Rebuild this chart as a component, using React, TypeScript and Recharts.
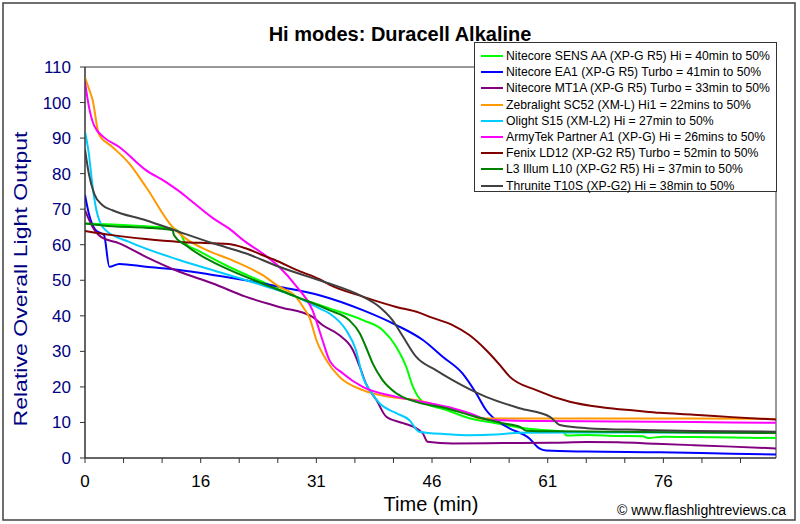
import { Legend, Line, LineChart, ReferenceArea, XAxis, YAxis } from "recharts";

type Pt = [number, number];

// x axis is an Excel category axis: a tick every ~5.07 min, label on every third
const X_TICK_LABELS = ["0", "16", "31", "46", "61", "76"];
const X_TICK_STEP = 76 / 15;
const X_MAX = 90.8;
const X_TICKS = Array.from({ length: 18 }, (_, k) => k * X_TICK_STEP);
const Y_TICKS = [0, 10, 20, 30, 40, 50, 60, 70, 80, 90, 100, 110];

// [minutes, relative output]
const SENS_AA: Pt[] = [
  [0, 66], [3.6, 65.7], [8, 65.2], [11.5, 64.6], [12.4, 63.6], [13.2, 60.4], [15, 58.2],
  [18.9, 53.8], [23.3, 49.6], [27.7, 45.4], [32.1, 42.1], [36.5, 38.8], [39.1, 36],
  [40.9, 31.3], [42.2, 25.7], [43.1, 20], [44.4, 15.8], [47.5, 13.5], [50.5, 11.2],
  [54, 9.8], [57, 8.6], [60, 7.9], [62.8, 7.5], [63.3, 6.3], [66, 6.5], [70, 6.2],
  [73.3, 6.1], [74, 5.6], [76, 6.0], [80, 5.9], [85, 5.8], [90.8, 5.6],
];
const EA1: Pt[] = [
  [0, 74], [0.5, 68.8], [1.4, 64.1], [2.5, 62.7], [3.2, 53.8], [4.5, 54.6], [8, 53.8],
  [12.4, 52.9], [16.8, 51.5], [21.1, 50], [25.5, 48.2], [30.8, 45.8], [36.5, 41.6],
  [40.9, 37.4], [44.4, 33.2], [47, 28.5], [49.6, 23.8], [51.4, 18.2], [52.7, 13.5],
  [55.4, 8.8], [58.4, 5.5], [59.7, 2.7], [60.6, 2.1], [65.9, 1.8], [75.5, 1.6],
  [85, 1.2], [90.8, 1.0],
];
const MT1A: Pt[] = [
  [0, 69.7], [1, 65], [2.1, 62.2], [4.5, 60.4], [8, 56.6], [12.4, 52.4], [16.8, 49.1],
  [21.1, 45.4], [25.5, 42.5], [29.9, 39.7], [31.2, 37.4], [33.4, 34.6], [35.2, 30.4],
  [36.1, 25.7], [36.9, 21], [38.3, 16.3], [39.6, 11.6], [41.8, 9.8], [43.5, 8.4],
  [44.4, 6.9], [45, 4.6], [48.3, 4.1], [55, 4.2], [61.4, 4.3], [66, 4.5], [70, 4.4],
  [75, 4.0], [80, 3.6], [85, 3.2], [90.8, 2.7],
];
const SC52: Pt[] = [
  [0, 107], [0.5, 104], [1, 100.7], [1.84, 91], [3.6, 87.5], [5.8, 82.9], [8, 76.3],
  [11.5, 65], [13.2, 61.8], [16, 58.5], [18.9, 56], [23.3, 51.5], [25.5, 48.2],
  [27.7, 45.4], [28.8, 42], [29.5, 39.5], [30.4, 33.2], [31.7, 27.6], [33.4, 22.9],
  [36.5, 19.1], [40, 17.2], [43.5, 16.3], [46, 15], [48.3, 13.8], [50.5, 12.5],
  [51.8, 11.1], [60, 11.1], [70, 11.1], [80, 11.1], [90.8, 11.0],
];
const S15: Pt[] = [
  [0, 91.8], [0.5, 85.7], [1, 76.3], [1.6, 68.8], [2.7, 64.1], [5.8, 60.8], [12.4, 55.7],
  [18.9, 51.5], [23.3, 48.6], [27.7, 45.4], [30.8, 42.1], [32.1, 40.7], [34.3, 36],
  [35.6, 30.4], [36.5, 22.9], [37.4, 19.1], [38.7, 15.4], [40.9, 12.6], [42.6, 10.7],
  [43.9, 7.4], [47.5, 6.7], [50.5, 6.4], [54, 6.6], [57.1, 7.1], [65, 7.2], [75, 7.2],
  [90.8, 7.2],
];
const PARTNER_A1: Pt[] = [
  [0, 105.8], [0.5, 99], [1.2, 93.5], [2.5, 90.2], [4.5, 87.5], [8, 81], [10.6, 77.7],
  [12.4, 75], [14.1, 72.1], [16.8, 67.5], [18.9, 64.6], [21.1, 60.8], [23.3, 57.6],
  [25.5, 53.8], [27.7, 48.5], [29.9, 41.5], [31.2, 33.2], [32.1, 27.6], [33.9, 23.8],
  [36.5, 20], [40.9, 17.2], [45.3, 15.4], [48.3, 14], [50.5, 12.6], [53.2, 10.7],
  [60, 10.4], [70, 10.3], [80, 10.1], [90.8, 9.9],
];
const LD12: Pt[] = [
  [0, 63.9], [3.6, 62.7], [8, 61.6], [12.4, 60.8], [16.8, 60.4], [18.9, 60.2], [21.1, 59],
  [23.3, 57.1], [25.5, 55.2], [27.7, 53], [30.8, 50.3], [32.1, 48.8], [36.5, 45.4],
  [40.9, 42.5], [43.9, 40.9], [45.3, 39.7], [48.3, 37.4], [50.5, 34.6], [52.7, 30.4],
  [54.5, 26.2], [55.8, 22.9], [59.3, 19.1], [63.7, 15.8], [68.1, 14.2], [72.5, 13.3],
  [75.5, 12.7], [80, 12.2], [85, 11.5], [90.8, 10.8],
];
const L10: Pt[] = [
  [0, 66], [3.6, 65.2], [8, 64.8], [11.5, 64.1], [11.7, 62.7], [13.2, 59.9], [16, 56],
  [18.9, 53], [23.3, 49.1], [27.7, 45.4], [32.1, 41.6], [34.7, 38.8], [36.1, 35.1],
  [36.9, 31.3], [37.8, 26.6], [39.1, 21.9], [40.9, 18.2], [43.5, 15.8], [47.5, 14],
  [50.5, 12.1], [54.9, 9.8], [57.1, 8.8], [58, 7.7], [62, 7.5], [70, 7.4], [80, 7.2],
  [90.8, 7.0],
];
const T10S: Pt[] = [
  [0, 86.8], [0.5, 80], [1.2, 74.4], [2.3, 71.1], [3.6, 69.7], [8, 66.9], [12.4, 63.6],
  [16.8, 60.4], [21.1, 57.6], [25.5, 53.8], [30.8, 50], [32.1, 49.1], [36.5, 45.4],
  [38.7, 42.5], [40.4, 38.8], [41.8, 34.1], [43.5, 28.5], [46.1, 24.7], [48.3, 21.9],
  [52.7, 17.2], [57.1, 14], [61.1, 11.6], [62.4, 9.3], [65.9, 8.4], [73.3, 7.9],
  [80, 7.6], [90.8, 7.4],
];

const SERIES = [
  { name: "Nitecore SENS AA (XP-G R5) Hi = 40min to 50%", color: "#00FF00", points: SENS_AA },
  { name: "Nitecore EA1 (XP-G R5) Turbo = 41min to 50%", color: "#0000FF", points: EA1 },
  { name: "Nitecore MT1A (XP-G R5) Turbo = 33min to 50%", color: "#800080", points: MT1A },
  { name: "Zebralight SC52 (XM-L) Hi1 = 22mins to 50%", color: "#FF9900", points: SC52 },
  { name: "Olight S15 (XM-L2) Hi = 27min to 50%", color: "#00CCFF", points: S15 },
  { name: "ArmyTek Partner A1 (XP-G) Hi = 26mins to 50%", color: "#FF00FF", points: PARTNER_A1 },
  { name: "Fenix LD12 (XP-G2 R5) Turbo = 52min to 50%", color: "#800000", points: LD12 },
  { name: "L3 Illum L10 (XP-G2 R5) Hi = 37min to 50%", color: "#008000", points: L10 },
  { name: "Thrunite T10S (XP-G2) Hi = 38min to 50%", color: "#404040", points: T10S },
];

const FONT = "Arial, 'Liberation Sans', sans-serif";
const AXIS = "#333333";

function XTick(props: any) {
  const { x, y, payload } = props;
  const k = Math.round(payload.value / X_TICK_STEP);
  if (k % 3 !== 0) return <g />;
  return (
    <text x={x} y={y} dy={22} textAnchor="middle" fontSize={17} fill="#000" fontFamily={FONT}>
      {X_TICK_LABELS[k / 3]}
    </text>
  );
}

function LegendBox() {
  return (
    <div
      style={{
        boxSizing: "border-box",
        width: 303,
        height: 150,
        border: `1px solid ${AXIS}`,
        background: "#fff",
        paddingTop: 5,
        fontFamily: FONT,
        fontSize: 12.2,
        color: "#000",
      }}
    >
      {SERIES.map((s) => (
        <div key={s.name} style={{ display: "flex", alignItems: "center", height: 16.2, whiteSpace: "nowrap" }}>
          <svg width={31} height={4} style={{ flex: "none" }}>
            <line x1={6} x2={28} y1={2} y2={2} stroke={s.color} strokeWidth={2} />
          </svg>
          <span>{s.name}</span>
        </div>
      ))}
    </div>
  );
}

export default function App() {
  return (
    <div
      style={{
        position: "absolute",
        left: 0,
        top: 0,
        width: 800,
        height: 524,
        background: "#fff",
        fontFamily: FONT,
      }}
    >
      <LineChart width={800} height={524} margin={{ top: 67, right: 24, bottom: 0, left: 0 }}>
        <XAxis
          type="number"
          dataKey="t"
          domain={[0, X_MAX]}
          ticks={X_TICKS}
          interval={0}
          height={66}
          tickSize={5}
          tick={<XTick />}
          stroke={AXIS}
          allowDataOverflow
        />
        <YAxis
          type="number"
          domain={[0, 110]}
          ticks={Y_TICKS}
          interval={0}
          width={85}
          tickSize={5}
          tickMargin={9}
          stroke={AXIS}
          tick={{ fill: "#000080", fontSize: 17, fontFamily: FONT }}
        />
        <ReferenceArea x1={0} x2={X_MAX} y1={0} y2={110} fill="none" stroke={AXIS} strokeWidth={1} />
        {SERIES.map((s) => (
          <Line
            key={s.name}
            data={s.points.map(([t, v]) => ({ t, v }))}
            dataKey="v"
            name={s.name}
            type="monotone"
            stroke={s.color}
            strokeWidth={2}
            dot={false}
            activeDot={false}
            isAnimationActive={false}
          />
        ))}
        <Legend
          layout="vertical"
          align="center"
          verticalAlign="middle"
          content={() => <LegendBox />}
          wrapperStyle={{ left: 474, top: 42, width: 303, height: 150 }}
        />
      </LineChart>
      <svg
        width={800}
        height={524}
        style={{ position: "absolute", left: 0, top: 0, pointerEvents: "none" }}
        fontFamily={FONT}
      >
        <rect x={3} y={3} width={792} height={517} fill="none" stroke="#404040" strokeWidth={1.5} />
        <text x={400} y={41} textAnchor="middle" fontSize={20} fontWeight="bold" fill="#000">
          Hi modes: Duracell Alkaline
        </text>
        <text
          transform="translate(27 279) rotate(-90)"
          textAnchor="middle"
          fontSize={19}
          fill="#000080"
          textLength={295}
          lengthAdjust="spacingAndGlyphs"
        >
          Relative Overall Light Output
        </text>
        <text x={431} y={511} textAnchor="middle" fontSize={20} fill="#000">
          Time (min)
        </text>
        <text x={786} y={515} textAnchor="end" fontSize={14} fill="#000">
          © www.flashlightreviews.ca
        </text>
      </svg>
    </div>
  );
}
